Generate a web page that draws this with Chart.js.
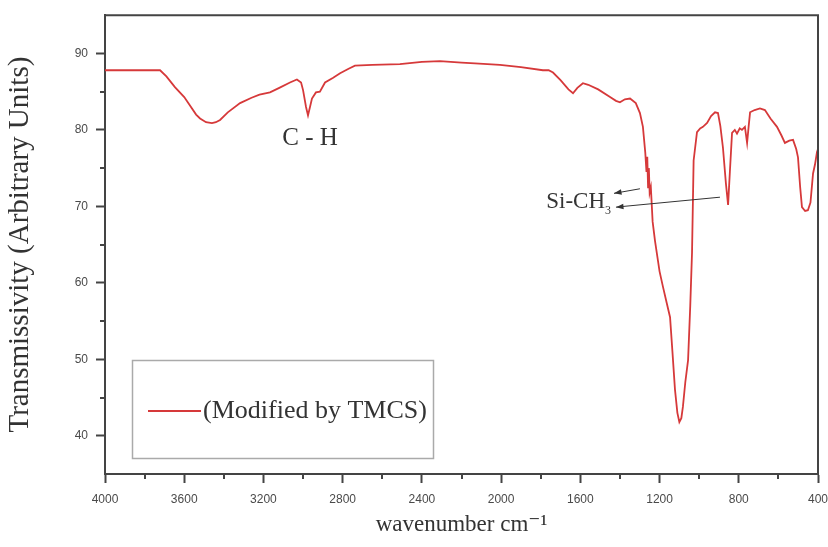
<!DOCTYPE html>
<html>
<head>
<meta charset="utf-8">
<script src="https://cdn.jsdelivr.net/npm/chart.js@4.4.1/dist/chart.umd.min.js"></script>
<style>
  body { margin: 0; background: #fff; }
  #wrap { width: 828px; height: 547px; position: relative; }
</style>
</head>
<body>
<div id="wrap"><canvas id="ftir"></canvas></div>
<script>
// FTIR spectrum (wavenumber in cm-1, descending)
const wavenumbers = [
  4000, 3900, 3800, 3722, 3690, 3647, 3600, 3571, 3540, 3520, 3490, 3460, 3440, 3419, 3380,
  3318, 3260, 3220, 3167, 3120, 3066, 3031, 3010, 3000, 2985, 2975, 2965, 2955, 2935, 2915,
  2889, 2850, 2813, 2770, 2738, 2650, 2511, 2400, 2309, 2200, 2132, 2006, 1900, 1789, 1760,
  1738, 1700, 1660, 1637, 1615, 1587, 1560, 1510, 1450, 1420, 1400, 1375, 1349, 1320, 1299,
  1284, 1272, 1266, 1262, 1258, 1254, 1250, 1244, 1235, 1223, 1200, 1183, 1165, 1147, 1135,
  1122, 1110, 1100, 1090, 1082, 1070, 1056, 1045, 1036, 1028, 1011, 995, 981, 960, 940,
  920, 905, 893, 880, 865, 854, 845, 834, 820, 809, 795, 784, 769, 758, 750,
  743, 720, 693, 668, 640, 607, 585, 567, 545, 526, 510, 501, 490, 481, 465,
  451, 438, 425, 415, 405, 400
];
const transmissivity = [
  87.8, 87.8, 87.8, 87.8, 87.0, 85.6, 84.3, 83.2, 82.0, 81.5, 81.0, 80.9, 81.0, 81.3, 82.3,
  83.5, 84.2, 84.6, 84.9, 85.5, 86.2, 86.6, 86.2, 85.2, 83.0, 81.9, 83.0, 84.1, 84.9, 85.0,
  86.2, 86.8, 87.4, 88.0, 88.4, 88.5, 88.6, 88.9, 89.0, 88.8, 88.7, 88.5, 88.2, 87.8, 87.8,
  87.5, 86.5, 85.3, 84.8, 85.5, 86.1, 85.9, 85.3, 84.3, 83.8, 83.6, 84.0, 84.1, 83.5, 82.2,
  80.4, 77.0, 74.5, 76.5, 72.5, 75.0, 71.8, 72.5, 68.0, 65.5, 61.5, 59.5, 57.5, 55.5, 51.0,
  46.0, 43.0, 41.8, 42.3, 43.8, 47.0, 49.9, 57.0, 64.0, 76.0, 79.7, 80.2, 80.4, 80.9, 81.8,
  82.3, 82.2, 80.5, 77.7, 73.0, 70.2, 74.5, 79.6, 80.0, 79.5, 80.2, 80.0, 80.4, 78.3, 80.5,
  82.3, 82.6, 82.8, 82.6, 81.5, 80.4, 79.3, 78.3, 78.6, 78.7, 77.5, 76.4, 72.5, 69.9, 69.4,
  69.5, 70.5, 74.3, 75.5, 77.1, 77.5
];

const xMajorTicks = [4000, 3600, 3200, 2800, 2400, 2000, 1600, 1200, 800, 400];
const yMajorTicks = [40, 50, 60, 70, 80, 90];
const xMinorTicks = [3800, 3400, 3000, 2600, 2200, 1800, 1400, 1000, 600];
const yMinorTicks = [45, 55, 65, 75, 85];

const seriesLabel = '(Modified by TMCS)';
const lineColor = '#d6393a';
const axisColor = '#444';
const serif = "'Liberation Serif', 'DejaVu Serif', serif";
const tickFont = { size: 12, family: "'Liberation Sans Narrow', 'Liberation Sans', sans-serif" };

// frame, minor ticks, annotations and the boxed legend
const decorations = {
  id: 'decorations',
  afterDraw(chart) {
    const { ctx, chartArea: a, scales: { x, y } } = chart;
    ctx.save();

    ctx.strokeStyle = axisColor;
    ctx.lineWidth = 2;
    ctx.beginPath();
    ctx.moveTo(a.left, a.top);
    ctx.lineTo(a.right, a.top);
    ctx.lineTo(a.right, a.bottom);
    ctx.stroke();

    // minor ticks
    ctx.beginPath();
    xMinorTicks.forEach(v => {
      const px = Math.round(x.getPixelForValue(v));
      ctx.moveTo(px, a.bottom);
      ctx.lineTo(px, a.bottom + 5);
    });
    yMinorTicks.forEach(v => {
      const py = Math.round(y.getPixelForValue(v));
      ctx.moveTo(a.left, py);
      ctx.lineTo(a.left - 5, py);
    });
    ctx.stroke();

    ctx.fillStyle = '#333';
    ctx.textBaseline = 'middle';

    // C - H label
    ctx.font = '25px ' + serif;
    ctx.textAlign = 'center';
    ctx.fillText('C - H', x.getPixelForValue(2965), y.getPixelForValue(78.9));

    // Si-CH3 label
    const sx = x.getPixelForValue(1445);
    const sy = y.getPixelForValue(70.6);
    ctx.textAlign = 'right';
    ctx.font = '12px ' + serif;
    ctx.fillText('3', sx, sy + 9);
    ctx.font = '23px ' + serif;
    ctx.fillText('Si-CH', sx - 6, sy);

    // arrows
    const arrow = (fx, fy, tx, ty) => {
      const x0 = x.getPixelForValue(fx), y0 = y.getPixelForValue(fy);
      const x1 = x.getPixelForValue(tx), y1 = y.getPixelForValue(ty);
      ctx.strokeStyle = '#333';
      ctx.lineWidth = 1;
      ctx.beginPath();
      ctx.moveTo(x0, y0);
      ctx.lineTo(x1, y1);
      ctx.stroke();
      const ang = Math.atan2(y1 - y0, x1 - x0);
      ctx.beginPath();
      ctx.moveTo(x1, y1);
      ctx.lineTo(x1 - 8 * Math.cos(ang - 0.35), y1 - 8 * Math.sin(ang - 0.35));
      ctx.lineTo(x1 - 8 * Math.cos(ang + 0.35), y1 - 8 * Math.sin(ang + 0.35));
      ctx.closePath();
      ctx.fill();
    };
    arrow(1299, 72.3, 1430, 71.7);
    arrow(895, 71.2, 1420, 69.9);

    // legend box
    ctx.strokeStyle = '#aaa';
    ctx.lineWidth = 1.5;
    ctx.strokeRect(132.5, 360.5, 301, 98);
    ctx.strokeStyle = lineColor;
    ctx.lineWidth = 2;
    ctx.beginPath();
    ctx.moveTo(148, 411);
    ctx.lineTo(201, 411);
    ctx.stroke();
    ctx.fillStyle = '#333';
    ctx.font = '26px ' + serif;
    ctx.textAlign = 'left';
    ctx.fillText(seriesLabel, 203, 411);

    ctx.restore();
  }
};

new Chart(document.getElementById('ftir'), {
  type: 'line',
  data: {
    datasets: [{
      label: seriesLabel,
      data: wavenumbers.map((w, i) => ({ x: w, y: transmissivity[i] })),
      borderColor: lineColor,
      borderWidth: 1.8,
      pointRadius: 0,
      tension: 0,
      fill: false
    }]
  },
  options: {
    responsive: true,
    maintainAspectRatio: false,
    animation: false,
    layout: { padding: { top: 15, right: 10, left: 0, bottom: 0 } },
    plugins: { legend: { display: false }, tooltip: { enabled: false } },
    scales: {
      x: {
        type: 'linear',
        reverse: true,
        min: 400,
        max: 4000,
        afterBuildTicks: s => { s.ticks = xMajorTicks.map(v => ({ value: v })); },
        afterFit: s => { s.height = 73; s.paddingLeft = 0; s.paddingRight = 0; },
        ticks: {
          autoSkip: false,
          maxRotation: 0,
          padding: 9,
          color: '#4a4a4a',
          font: tickFont,
          callback: v => String(v)
        },
        grid: {
          drawOnChartArea: false,
          drawTicks: true,
          tickLength: 9,
          tickColor: axisColor,
          tickWidth: 2
        },
        border: { display: true, color: axisColor, width: 2 },
        title: {
          display: true,
          text: 'wavenumber cm⁻¹',
          color: '#333',
          font: { size: 23, family: serif },
          padding: { top: 0, bottom: 8 }
        }
      },
      y: {
        min: 35,
        max: 95,
        afterBuildTicks: s => { s.ticks = yMajorTicks.map(v => ({ value: v })); },
        afterFit: s => { s.width = 105; },
        ticks: {
          autoSkip: false,
          padding: 8,
          color: '#4a4a4a',
          font: tickFont,
          callback: v => String(v)
        },
        grid: {
          drawOnChartArea: false,
          drawTicks: true,
          tickLength: 9,
          tickColor: axisColor,
          tickWidth: 2
        },
        border: { display: true, color: axisColor, width: 2 },
        title: {
          display: true,
          text: 'Transmissivity (Arbitrary Units)',
          color: '#333',
          font: { size: 29, family: serif },
          padding: { top: 3, bottom: 0 }
        }
      }
    }
  },
  plugins: [decorations]
});
</script>
</body>
</html>
